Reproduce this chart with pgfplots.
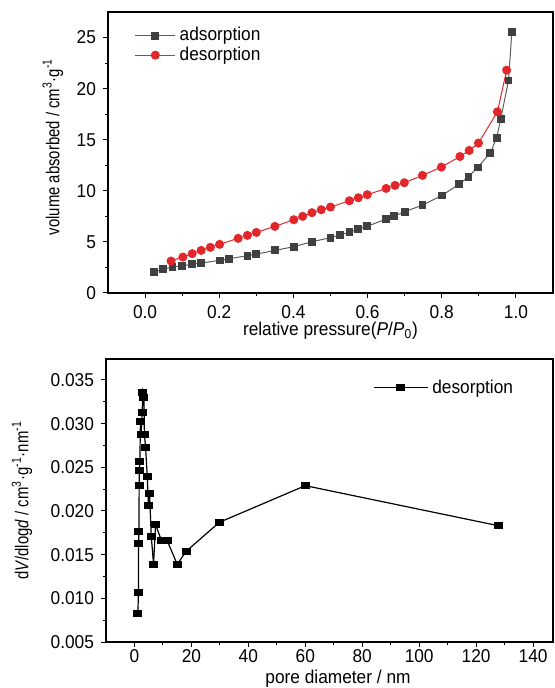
\documentclass[border=0pt]{standalone}
\usepackage{fontspec}
\setmainfont{Liberation Sans}[FakeStretch=0.93]
\newfontfamily\vfont{Liberation Sans}[FakeStretch=0.8]
\usepackage{pgfplots}
\pgfplotsset{compat=1.18}

\definecolor{adsgray}{HTML}{404040}
\definecolor{desred}{HTML}{E3262A}

\pgfplotsset{
  panel/.style={
    scale only axis,
    axis line style={line width=0.6pt},
    tick align=outside,
    tick pos=left,
    major tick length=2.5pt,
    minor tick length=1.5pt,
    minor tick num=1,
    every tick/.append style={black, line width=0.5pt},
    tick label style={font=\fontsize{9.3}{10}\selectfont},
    /pgf/number format/assume math mode=true,
    xlabel style={font=\fontsize{9.3}{10}\selectfont, anchor=center},
    ylabel style={font=\fontsize{9.3}{10}\vfont, anchor=center},
    legend style={draw=none, fill=none, font=\fontsize{9.3}{10}\selectfont,
      row sep=-2.5pt, inner sep=1pt},
    legend cell align=left,
  },
}

\begin{document}
\begin{tikzpicture}
\path[use as bounding box] (0,0) rectangle (277pt,-344pt);

% isotherm
\begin{axis}[panel,
  at={(54pt,-146.5pt)}, anchor=south west,
  width=222.5pt, height=140.5pt,
  xmin=-0.1, xmax=1.1, ymin=0, ymax=27.5,
  xtick={0,0.2,...,1.0},
  ytick={0,5,...,25},
  xticklabel style={/pgf/number format/.cd, fixed, fixed zerofill, precision=1},
  xlabel={relative pressure(\textit{P}/\textit{P}\textsubscript{0})},
  ylabel={volume absorbed / cm\textsuperscript{3}·g\textsuperscript{-1}},
  xlabel style={at={(axis description cs:0.5,-0.135)}},
  ylabel style={at={(axis description cs:-0.124,0.52)}},
  legend style={at={(axis description cs:0.055,0.881)}, anchor=west},
  legend image code/.code={\draw[mark repeat=2,mark phase=2,#1]
    plot coordinates {(0cm,0cm) (0.35cm,0cm) (0.7cm,0cm)};},
]
\addplot[color=adsgray!85, line width=0.5pt, mark=square*,
  mark size=1.7pt, mark options={fill=adsgray, draw=adsgray}] coordinates {
  (0.025,2.05) (0.049,2.35) (0.074,2.54) (0.100,2.67) (0.126,2.80)
  (0.151,2.93) (0.201,3.19) (0.227,3.36) (0.276,3.65) (0.300,3.81)
  (0.351,4.17) (0.401,4.53) (0.450,5.02) (0.500,5.41) (0.525,5.67)
  (0.551,5.96) (0.574,6.26) (0.599,6.52) (0.650,7.24) (0.672,7.53)
  (0.700,7.95) (0.748,8.60) (0.801,9.55) (0.847,10.66) (0.872,11.38)
  (0.897,12.29) (0.931,13.72) (0.948,15.19) (0.959,17.01) (0.980,20.80)
  (0.989,25.55)
};
\addplot[color=desred, line width=0.5pt, mark=*,
  mark size=2pt, mark options={fill=desred, draw=desred}] coordinates {
  (0.070,3.13) (0.102,3.52) (0.127,3.85) (0.151,4.17) (0.176,4.47)
  (0.201,4.76) (0.251,5.35) (0.276,5.64) (0.300,5.93) (0.350,6.52)
  (0.401,7.17) (0.425,7.50) (0.450,7.86) (0.475,8.15) (0.500,8.41)
  (0.551,9.03) (0.575,9.32) (0.599,9.62) (0.650,10.23) (0.674,10.53)
  (0.699,10.79) (0.748,11.51) (0.799,12.32) (0.849,13.36) (0.874,13.95)
  (0.899,14.67) (0.950,17.73) (0.975,21.81)
};
\legend{adsorption, desorption}
\end{axis}

% pore size distribution
\begin{axis}[panel,
  at={(53pt,-321pt)}, anchor=south west,
  width=223.5pt, height=141.5pt,
  xmin=-10, xmax=147, ymin=0.005, ymax=0.0374,
  xtick={0,20,...,140},
  ytick={0.005,0.010,...,0.036},
  scaled y ticks=false,
  xticklabel style={yshift=2.5pt},
  yticklabel style={/pgf/number format/.cd, fixed, fixed zerofill, precision=3},
  xlabel={pore diameter / nm},
  ylabel={d\textit{V}/dlog\textit{d} / cm\textsuperscript{3}·g\textsuperscript{-1}·nm\textsuperscript{-1}},
  xlabel style={at={(axis description cs:0.519,-0.13)}},
  ylabel style={at={(axis description cs:-0.188,0.5)}},
  legend style={at={(axis description cs:0.925,0.898)}, anchor=east},
  legend image code/.code={\draw[mark repeat=2,mark phase=2,#1]
    plot coordinates {(0cm,0cm) (0.47cm,0cm) (0.94cm,0cm)};},
]
\addplot[black, line width=0.6pt, mark=square*,
  mark size=1.7pt, mark options={xscale=1.15, yscale=0.85}] coordinates {
  (1.2,0.0083) (1.4,0.0107) (1.45,0.0163) (1.55,0.0176) (1.65,0.0229)
  (1.7,0.0246) (1.9,0.0257) (2.1,0.0303) (2.3,0.0287) (2.7,0.0313)
  (2.95,0.0336) (3.3,0.0330) (3.5,0.0287) (3.9,0.0273) (4.5,0.0239)
  (4.9,0.0206) (5.3,0.0220) (5.9,0.0171) (6.7,0.0139) (7.4,0.01845)
  (9.5,0.0166) (11.5,0.0166) (15.0,0.0139) (18.2,0.0154) (29.8,0.0187)
  (60.0,0.0229) (128.0,0.0183)
};
\legend{desorption}
\end{axis}
\end{tikzpicture}
\end{document}
